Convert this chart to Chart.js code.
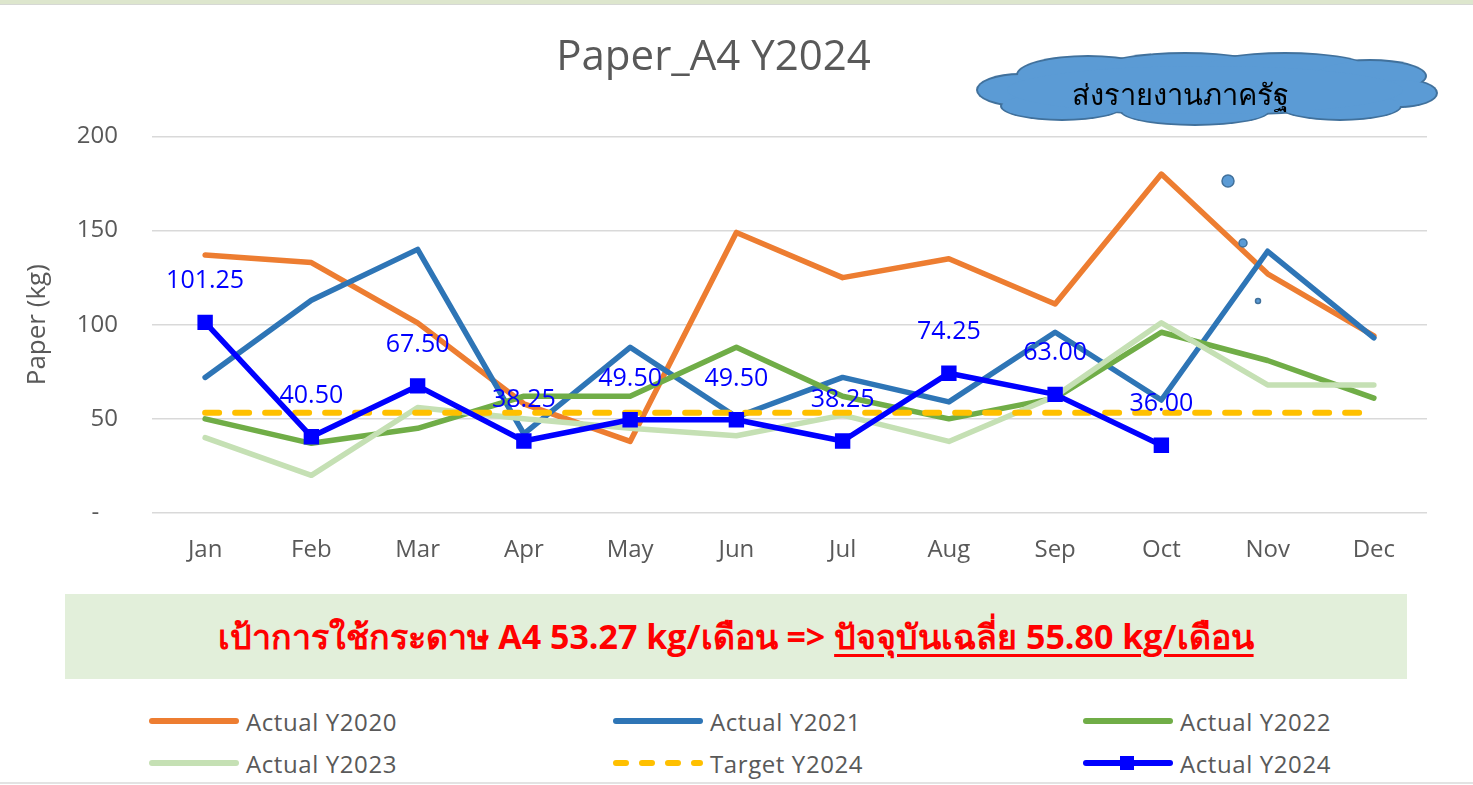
<!DOCTYPE html>
<html>
<head>
<meta charset="utf-8">
<script src="https://cdn.jsdelivr.net/npm/chart.js@4.4.1/dist/chart.umd.min.js"></script>
<style>
    body{margin:0;background:#fff;font-family:'Open Sans',sans-serif;}
    .page{position:relative;width:1473px;height:785px;overflow:hidden;background:#fff;}
    .topStrip{position:absolute;left:0;top:0;width:100%;height:4px;background:#dde6cd;border-bottom:1px solid #d6d8d4;}
    .bottomLine{position:absolute;left:0;top:782px;width:100%;height:2px;background:#e3e3e3;}
    #chartBox{position:absolute;left:0;top:0;width:1473px;height:585px;}
    .banner{position:absolute;left:65px;top:594px;width:1342px;height:85px;background:#e2efda;
        color:#ff0000;font-weight:bold;font-size:34px;line-height:85px;text-align:center;white-space:nowrap;}
    .banner u{text-underline-offset:5px;}
    .legendItem{position:absolute;height:30px;display:flex;align-items:center;color:#595959;font-size:24px;letter-spacing:0.6px;white-space:nowrap;}
    .legendItem svg{margin-right:6px;}
    #cloud{position:absolute;left:0;top:0;}
</style>
</head>
<body>
<div class="page">
    <div class="topStrip"></div>
    <div id="chartBox"><canvas id="myChart" width="1473" height="585"></canvas></div>

    <svg id="cloud" width="1473" height="330">
        <g fill="#41719c">
            <ellipse cx="1020" cy="90" rx="44" ry="17"/>
            <ellipse cx="1088" cy="75" rx="72" ry="20"/>
            <ellipse cx="1185" cy="67" rx="82" ry="15"/>
            <ellipse cx="1285" cy="67" rx="82" ry="15"/>
            <ellipse cx="1370" cy="76" rx="57" ry="17"/>
            <ellipse cx="1400" cy="93" rx="38" ry="15"/>
            <ellipse cx="1340" cy="106" rx="62" ry="15"/>
            <ellipse cx="1195" cy="111" rx="75" ry="15"/>
            <ellipse cx="1062" cy="106" rx="62" ry="15"/>
            <ellipse cx="1205" cy="90" rx="200" ry="26"/>
        </g>
        <g fill="#5b9bd5">
            <ellipse cx="1020" cy="90" rx="42" ry="15"/>
            <ellipse cx="1088" cy="75" rx="70" ry="18"/>
            <ellipse cx="1185" cy="67" rx="80" ry="13"/>
            <ellipse cx="1285" cy="67" rx="80" ry="13"/>
            <ellipse cx="1370" cy="76" rx="55" ry="15"/>
            <ellipse cx="1400" cy="93" rx="36" ry="13"/>
            <ellipse cx="1340" cy="106" rx="60" ry="13"/>
            <ellipse cx="1195" cy="111" rx="73" ry="13"/>
            <ellipse cx="1062" cy="106" rx="60" ry="13"/>
            <ellipse cx="1205" cy="90" rx="198" ry="24"/>
        </g>
        <text x="1180" y="97" text-anchor="middle" dominant-baseline="middle" font-size="29" fill="#000">ส่งรายงานภาครัฐ</text>
        <!-- bubble tail -->
        <g fill="#5b9bd5" stroke="#41719c" stroke-width="1.5">
            <circle cx="1228" cy="181" r="6"/>
            <circle cx="1243" cy="243" r="4"/>
            <circle cx="1258" cy="301" r="2.5"/>
        </g>
    </svg>

    <div class="banner">เป้าการใช้กระดาษ A4 53.27 kg/เดือน =&gt; <u>ปัจจุบันเฉลี่ย 55.80 kg/เดือน</u></div>
    <div id="legend"></div>
    <div class="bottomLine"></div>
</div>

<script>
// data
var months = ['Jan','Feb','Mar','Apr','May','Jun','Jul','Aug','Sep','Oct','Nov','Dec']
var actual2020 = [137, 133, 101, 58, 38, 149, 125, 135, 111, 180, 127, 94]
var actual2021 = [72, 113, 140, 42, 88, 51, 72, 59, 96, 60, 139, 93]
var actual2022 = [50, 37, 45, 62, 62, 88, 62, 50, 61, 96, 81, 61]
var actual2023 = [40, 20, 56, 50, 45, 41, 52, 38, 62, 101, 68, 68]
var target2024 = [53.27, 53.27, 53.27, 53.27, 53.27, 53.27, 53.27, 53.27, 53.27, 53.27, 53.27, 53.27]
var actual2024 = [101.25, 40.50, 67.50, 38.25, 49.50, 49.50, 38.25, 74.25, 63.00, 36.00, null, null]
var yTicks = [0, 50, 100, 150, 200]

var textColor = '#595959'
Chart.defaults.font.family = "'Open Sans', sans-serif"

// blue value labels above the Y2024 points
var valueLabels = {
    id: 'valueLabels',
    afterDatasetsDraw: function(chart) {
        var ctx = chart.ctx
        chart.data.datasets.forEach(function(ds, i) {
            if (ds.label != 'Actual Y2024') return
            var meta = chart.getDatasetMeta(i)
            ctx.save()
            ctx.font = "25px 'Open Sans', sans-serif"
            ctx.fillStyle = '#0000ff'
            ctx.textAlign = 'center'
            ctx.textBaseline = 'middle'
            meta.data.forEach(function(pt, j) {
                if (ds.data[j] == null) return
                ctx.fillText(ds.data[j].toFixed(2), pt.x, pt.y - 41)
            })
            ctx.restore()
        })
    }
}

function lineSet(label, data, color, order) {
    return {
        label: label,
        data: data,
        borderColor: color,
        backgroundColor: color,
        borderWidth: 5.5,
        pointRadius: 0,
        tension: 0,
        borderCapStyle: 'round',
        borderJoinStyle: 'round',
        order: order
    }
}

var datasets = [
    lineSet('Actual Y2020', actual2020, '#ed7d31', 6),
    lineSet('Actual Y2021', actual2021, '#2e75b6', 5),
    lineSet('Actual Y2022', actual2022, '#70ad47', 4),
    lineSet('Actual Y2023', actual2023, '#c5e0b4', 3),
    lineSet('Target Y2024', target2024, '#ffc000', 2),
    lineSet('Actual Y2024', actual2024, '#0000ff', 1)
]
datasets[4].borderDash = [14, 16]
datasets[4].borderWidth = 6
datasets[5].pointStyle = 'rect'
datasets[5].pointRadius = 7
datasets[5].borderWidth = 5.5

function $id(id) { return document.getElementById(id) }
const ctx = $id('myChart').getContext('2d')

var myChart = new Chart(ctx, {
    type: 'line',
    data: { labels: months, datasets: datasets },
    plugins: [valueLabels],
    options: {
        responsive: false,
        animation: false,
        layout: { padding: { left: 0, right: 46, top: 0, bottom: 0 } },
        plugins: {
            legend: { display: false },
            tooltip: { enabled: false },
            title: {
                display: true,
                text: 'Paper_A4 Y2024',
                color: textColor,
                font: { size: 42, weight: 'normal' },
                padding: { top: 33, bottom: 53 }
            }
        },
        scales: {
            x: {
                offset: true,
                grid: { display: false, drawTicks: false },
                border: { display: false },
                ticks: { color: textColor, font: { size: 24 }, padding: 23 },
                afterFit: function(scale) { scale.height = 72 }
            },
            y: {
                min: 0,
                max: 200,
                afterBuildTicks: function(scale) {
                    scale.ticks = yTicks.map(function(v) { return { value: v } })
                },
                grid: { color: '#d9d9d9', lineWidth: 1.5, drawTicks: false },
                border: { display: false },
                ticks: {
                    color: textColor,
                    font: { size: 24 },
                    padding: 34,
                    callback: function(v) { return v == 0 ? '-   ' : v }
                },
                title: {
                    display: true,
                    text: 'Paper (kg)',
                    color: textColor,
                    font: { size: 26 },
                    padding: { top: 22, bottom: 0 }
                },
                afterFit: function(scale) { scale.width = 152 }
            }
        }
    }
})

// legend in 3 columns, built from the chart datasets
var legendCols = [148, 612, 1082]
var legendRows = [706, 748]
var box = ``
myChart.data.datasets.forEach(function(ds, i) {
    var col = i % 3, row = Math.floor(i / 3)
    var sample = `<line x1="4" y1="10" x2="88" y2="10" stroke="${ds.borderColor}" stroke-width="6" stroke-linecap="round"`
    if (ds.borderDash) sample += ` stroke-dasharray="10 16"`
    sample += `/>`
    if (ds.pointStyle == 'rect') sample += `<rect x="38" y="3" width="14" height="14" fill="${ds.borderColor}"/>`
    box += `
        <div class="legendItem" style="left:${legendCols[col]}px;top:${legendRows[row]}px">
            <svg width="92" height="20">${sample}</svg>${ds.label}
        </div>`
})
$id('legend').innerHTML = box
</script>
</body>
</html>
